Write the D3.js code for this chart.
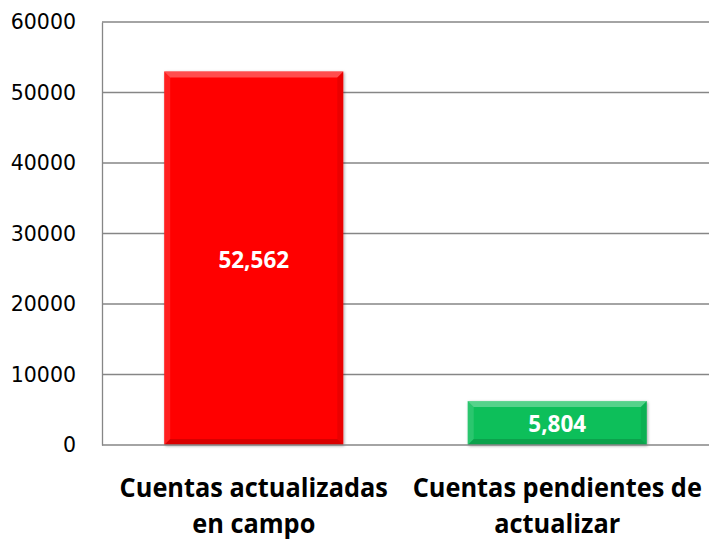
<!DOCTYPE html>
<html lang="es">
<head>
<meta charset="UTF-8">
<title>Cuentas</title>
<script src="https://d3js.org/d3.v7.min.js"></script>
<style>
  body { margin: 0; background: #fff; }
  text { font-family: "Open Sans", "Noto Sans", sans-serif; }
  .tick text { font-family: "DejaVu Sans", sans-serif; }
</style>
</head>
<body>
<svg width="714" height="542"></svg>
<script>
const categories = [['Cuentas actualizadas', 'en campo'], ['Cuentas pendientes de', 'actualizar']];
const values = [52562, 5804];
const colors = ['#ff0000', '#0fbf5a'];
const tickValues = [0, 10000, 20000, 30000, 40000, 50000, 60000];

const svg = d3.select('svg');
const margin = {top: 22, right: 5, bottom: 97, left: 102};
const width = 714, height = 542;

const x = d3.scaleBand()
  .domain(d3.range(values.length))
  .range([margin.left, width - margin.right])
  .paddingInner(0.41).paddingOuter(0.205);

const y = d3.scaleLinear()
  .domain([0, 60000])
  .range([height - margin.bottom, margin.top]);

const defs = svg.append('defs');
const f = defs.append('filter').attr('id', 'shadow').attr('x', '-10%').attr('y', '-10%').attr('width', '120%').attr('height', '120%');
f.append('feDropShadow').attr('dx', 1).attr('dy', 1).attr('stdDeviation', 1.5).attr('flood-color', '#000').attr('flood-opacity', 0.35);

// gridlines
svg.append('g')
  .selectAll('line')
  .data(tickValues.filter(d => d > 0))
  .join('line')
  .attr('x1', margin.left).attr('x2', width - margin.right)
  .attr('y1', d => y(d)).attr('y2', d => y(d))
  .attr('stroke', '#868686').attr('stroke-width', 1.3);

// y axis
const yAxis = svg.append('g')
  .attr('transform', `translate(${margin.left},0)`)
  .call(d3.axisLeft(y).tickValues(tickValues).tickSize(0).tickPadding(26).tickFormat(d3.format('d')));
yAxis.select('.domain').attr('stroke', '#868686').attr('stroke-width', 1.3);
yAxis.selectAll('text')
  .style('font-size', '20.5px').attr('fill', '#000');

// bars
const bars = svg.append('g').selectAll('g')
  .data(values)
  .join('g');

bars.append('rect')
  .attr('x', (d, i) => x(i))
  .attr('y', d => y(d) - 3)
  .attr('width', x.bandwidth())
  .attr('height', d => y(0) - y(d) + 3)
  .attr('fill', (d, i) => colors[i])
  .attr('filter', 'url(#shadow)');

// bevel shading around the edges
const bev = 6;
bars.append('path')
  .attr('d', (d, i) => {
    const x0 = x(i), x1 = x(i) + x.bandwidth(), y0 = y(d) - 3;
    return `M${x0},${y0}L${x1},${y0}L${x1 - bev},${y0 + bev}L${x0 + bev},${y0 + bev}Z`;
  })
  .attr('fill', '#fff').attr('opacity', 0.3);
bars.append('path')
  .attr('d', (d, i) => {
    const x0 = x(i), y0 = y(d) - 3, y1 = y(0);
    return `M${x0},${y0}L${x0 + bev},${y0 + bev}L${x0 + bev},${y1 - bev}L${x0},${y1}Z`;
  })
  .attr('fill', '#fff').attr('opacity', 0.12);
bars.append('path')
  .attr('d', (d, i) => {
    const x1 = x(i) + x.bandwidth(), y0 = y(d) - 3, y1 = y(0);
    return `M${x1},${y0}L${x1 - bev},${y0 + bev}L${x1 - bev},${y1 - bev}L${x1},${y1}Z`;
  })
  .attr('fill', '#000').attr('opacity', 0.08);
bars.append('path')
  .attr('d', (d, i) => {
    const x0 = x(i), x1 = x(i) + x.bandwidth(), y1 = y(0);
    return `M${x0},${y1}L${x0 + bev},${y1 - bev}L${x1 - bev},${y1 - bev}L${x1},${y1}Z`;
  })
  .attr('fill', '#000').attr('opacity', 0.15);

// value labels
bars.append('text')
  .attr('x', (d, i) => x(i) + x.bandwidth() / 2)
  .attr('y', d => (y(d) + y(0)) / 2)
  .attr('dy', '0.35em')
  .attr('text-anchor', 'middle')
  .attr('fill', '#fff')
  .style('font-weight', 'bold')
  .style('font-size', '22.5px')
  .text(d => d3.format(',')(d));

// x axis line
svg.append('line')
  .attr('x1', margin.left).attr('x2', width - margin.right)
  .attr('y1', y(0)).attr('y2', y(0))
  .attr('stroke', '#868686').attr('stroke-width', 1.3);

// category labels (slightly condensed horizontally, like the original)
const sx = 0.957;
svg.append('g').selectAll('text')
  .data(categories)
  .join('text')
  .attr('transform', (d, i) => `translate(${x(i) + x.bandwidth() / 2},497) scale(${sx},1)`)
  .attr('text-anchor', 'middle')
  .style('font-weight', 'bold')
  .style('font-size', '26.5px')
  .attr('fill', '#000')
  .selectAll('tspan')
  .data(d => d)
  .join('tspan')
  .attr('x', 0)
  .attr('dy', (d, i) => i === 0 ? 0 : 36)
  .text(d => d);
</script>
</body>
</html>
